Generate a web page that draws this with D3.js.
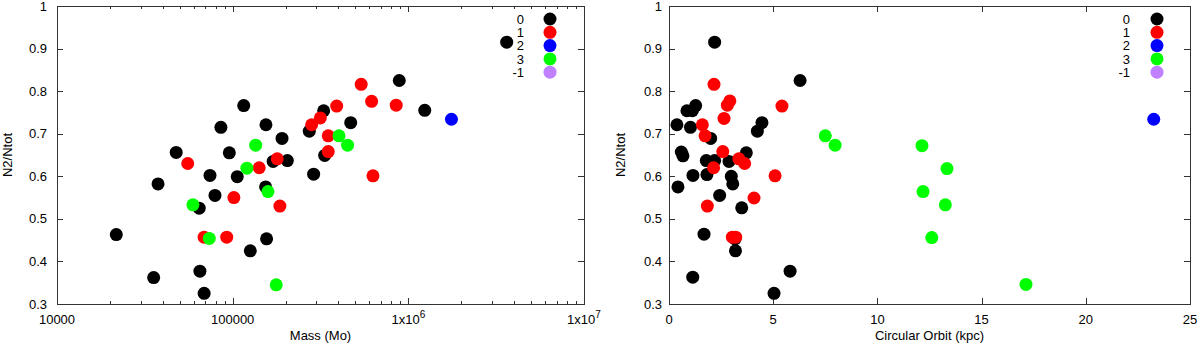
<!DOCTYPE html>
<html><head><meta charset="utf-8">
<script src="https://cdn.jsdelivr.net/npm/d3@7"></script>
<style>
body{margin:0;background:#fff;}
svg{display:block;font-family:"Liberation Sans",Arial,sans-serif;}
</style></head>
<body>
<svg id="chart" width="1200" height="348"></svg>
<script>
// ---- Data ----
const legendLabels = ["0", "1", "2", "3", "-1"];
const legendColors = ["#000000", "#ff0000", "#0000ff", "#00ff00", "#c080ff"];

// Left panel: [Mass (Mo), N2/Ntot]
const massGroup0 = [[21750,0.463],[35500,0.362],[37600,0.582],[47700,0.656],[64500,0.525],[65100,0.377],[68800,0.325],[74300,0.602],[79300,0.555],[85700,0.715],[95700,0.655],[106200,0.599],[115600,0.766],[126000,0.425],[154700,0.721],[154000,0.575],[156000,0.453],[170000,0.635],[191000,0.689],[204800,0.637],[3630000,0.915],[888000,0.825],[1240000,0.755],[329600,0.754],[469800,0.726],[273000,0.706],[334000,0.649],[289000,0.605]];
const massGroup1 = [[55500,0.630],[68800,0.457],[92500,0.457],[101600,0.550],[141600,0.620],[179400,0.641],[185700,0.530],[539000,0.816],[618000,0.776],[853000,0.767],[391000,0.765],[315500,0.737],[281600,0.721],[350000,0.695],[350000,0.658],[629000,0.601]];
const massGroup2 = [[1760000,0.734]];
const massGroup3 = [[59400,0.533],[73600,0.454],[120500,0.619],[135200,0.673],[158800,0.564],[177000,0.345],[403000,0.695],[451000,0.673]];

// Right panel: [Circular Orbit (kpc), N2/Ntot]
const orbitGroup0 = [[2.19,0.915],[6.29,0.825],[0.38,0.721],[0.86,0.754],[1.12,0.754],[1.28,0.766],[1.03,0.715],[2.00,0.689],[0.59,0.657],[0.67,0.648],[3.71,0.655],[1.79,0.637],[2.19,0.637],[2.88,0.635],[0.43,0.575],[1.15,0.602],[1.82,0.604],[2.99,0.600],[3.06,0.582],[2.43,0.555],[3.49,0.526],[4.24,0.706],[4.46,0.726],[1.68,0.464],[3.17,0.453],[3.19,0.425],[1.14,0.363],[5.81,0.377],[5.04,0.325]];
const orbitGroup1 = [[2.16,0.816],[2.80,0.767],[2.92,0.777],[5.42,0.765],[2.64,0.736],[1.60,0.721],[1.73,0.695],[2.58,0.658],[3.35,0.641],[3.63,0.630],[2.14,0.620],[5.09,0.601],[1.84,0.530],[4.08,0.549],[3.04,0.457],[3.20,0.457]];
const orbitGroup2 = [[23.26,0.734]];
const orbitGroup3 = [[7.50,0.695],[7.97,0.673],[12.14,0.672],[13.34,0.618],[12.19,0.564],[13.26,0.533],[12.61,0.456],[17.13,0.346]];

const yTicks = [0.3,0.4,0.5,0.6,0.7,0.8,0.9,1];
const massTicks = [1e4,1e5,1e6,1e7];
const massTickLabels = [["10000",""],["100000",""],["1x10","6"],["1x10","7"]];
const orbitTicks = [0,5,10,15,20,25];

// ---- Drawing ----
const svg = d3.select("#chart");
const frame = "#333";
const R = 6.5;

function panel(opts){
  const {x0,x1,xScale,majorTicks,minorTicks,labelFn,yPad,yTitleX,xTitle,groups,legendTextX,legendDotX} = opts;
  const yTop = 6, yBot = 304;
  const y = d3.scaleLinear().domain([0.3,1]).range([yBot,yTop]);
  const g = svg.append("g");

  // ticks
  const tg = g.append("g").attr("stroke", frame).attr("stroke-width",1);
  majorTicks.forEach(v=>{
    const px = Math.round(xScale(v))+0.5;
    tg.append("line").attr("x1",px).attr("x2",px).attr("y1",yBot).attr("y2",yBot-6);
    tg.append("line").attr("x1",px).attr("x2",px).attr("y1",yTop).attr("y2",yTop+6);
  });
  minorTicks.forEach(v=>{
    const px = Math.round(xScale(v))+0.5;
    tg.append("line").attr("x1",px).attr("x2",px).attr("y1",yBot).attr("y2",yBot-3);
    tg.append("line").attr("x1",px).attr("x2",px).attr("y1",yTop).attr("y2",yTop+3);
  });
  yTicks.forEach(v=>{
    const py = Math.round(y(v))+0.5;
    tg.append("line").attr("x1",x0).attr("x2",x0+6).attr("y1",py).attr("y2",py);
    tg.append("line").attr("x1",x1).attr("x2",x1-6).attr("y1",py).attr("y2",py);
  });

  // frame
  g.append("rect").attr("x",x0+0.5).attr("y",yTop+0.5).attr("width",x1-x0).attr("height",yBot-yTop)
    .attr("fill","none").attr("stroke",frame).attr("stroke-width",1);

  // x tick labels
  majorTicks.forEach((v,i)=>{
    const lab = labelFn(i);
    const t = g.append("text").attr("x",xScale(v)).attr("y",324).attr("text-anchor","middle")
      .attr("font-size",13).attr("fill","#000").text(lab[0]);
    if(lab[1]) t.append("tspan").attr("dy",-6).attr("font-size",10).text(lab[1]);
  });
  // y tick labels
  yTicks.forEach(v=>{
    g.append("text").attr("x",x0-yPad).attr("y",y(v)+4.6).attr("text-anchor","end")
      .attr("font-size",13).attr("fill","#000").text(d3.format("~g")(v));
  });
  // titles
  g.append("text").attr("x",(x0+x1)/2).attr("y",340).attr("text-anchor","middle")
    .attr("font-size",13).text(xTitle);
  g.append("text").attr("transform",`translate(${yTitleX+4.6},${(yTop+yBot)/2}) rotate(-90)`)
    .attr("text-anchor","middle").attr("font-size",13).text("N2/Ntot");

  // points
  groups.forEach((arr,gi)=>{
    const col = legendColors[gi];
    g.append("g").selectAll("circle").data(arr).join("circle")
      .attr("cx",d=>xScale(d[0])).attr("cy",d=>y(d[1])).attr("r",R).attr("fill",col);
  });

  // legend
  legendLabels.forEach((lab,i)=>{
    const ly = 19 + i*13.3;
    g.append("text").attr("x",legendTextX).attr("y",ly+4.6).attr("text-anchor","end")
      .attr("font-size",13).text(lab);
    g.append("circle").attr("cx",legendDotX).attr("cy",ly).attr("r",R).attr("fill",legendColors[i]);
  });
}

const xMass = d3.scaleLog().domain([1e4,1e7]).range([57,584]);
const massMinor = xMass.ticks().filter(v=>!massTicks.includes(v));
panel({x0:57,x1:584,xScale:xMass,majorTicks:massTicks,minorTicks:massMinor,
  labelFn:i=>massTickLabels[i],yPad:10,yTitleX:7,xTitle:"Mass (Mo)",
  groups:[massGroup0,massGroup1,massGroup2,massGroup3],legendTextX:524,legendDotX:550});

const xOrbit = d3.scaleLinear().domain([0,25]).range([669,1190]);
panel({x0:669,x1:1190,xScale:xOrbit,majorTicks:orbitTicks,minorTicks:[],
  labelFn:i=>[String(orbitTicks[i]),""],yPad:7,yTitleX:620,xTitle:"Circular Orbit (kpc)",
  groups:[orbitGroup0,orbitGroup1,orbitGroup2,orbitGroup3],legendTextX:1130,legendDotX:1157});
</script>
</body></html>
